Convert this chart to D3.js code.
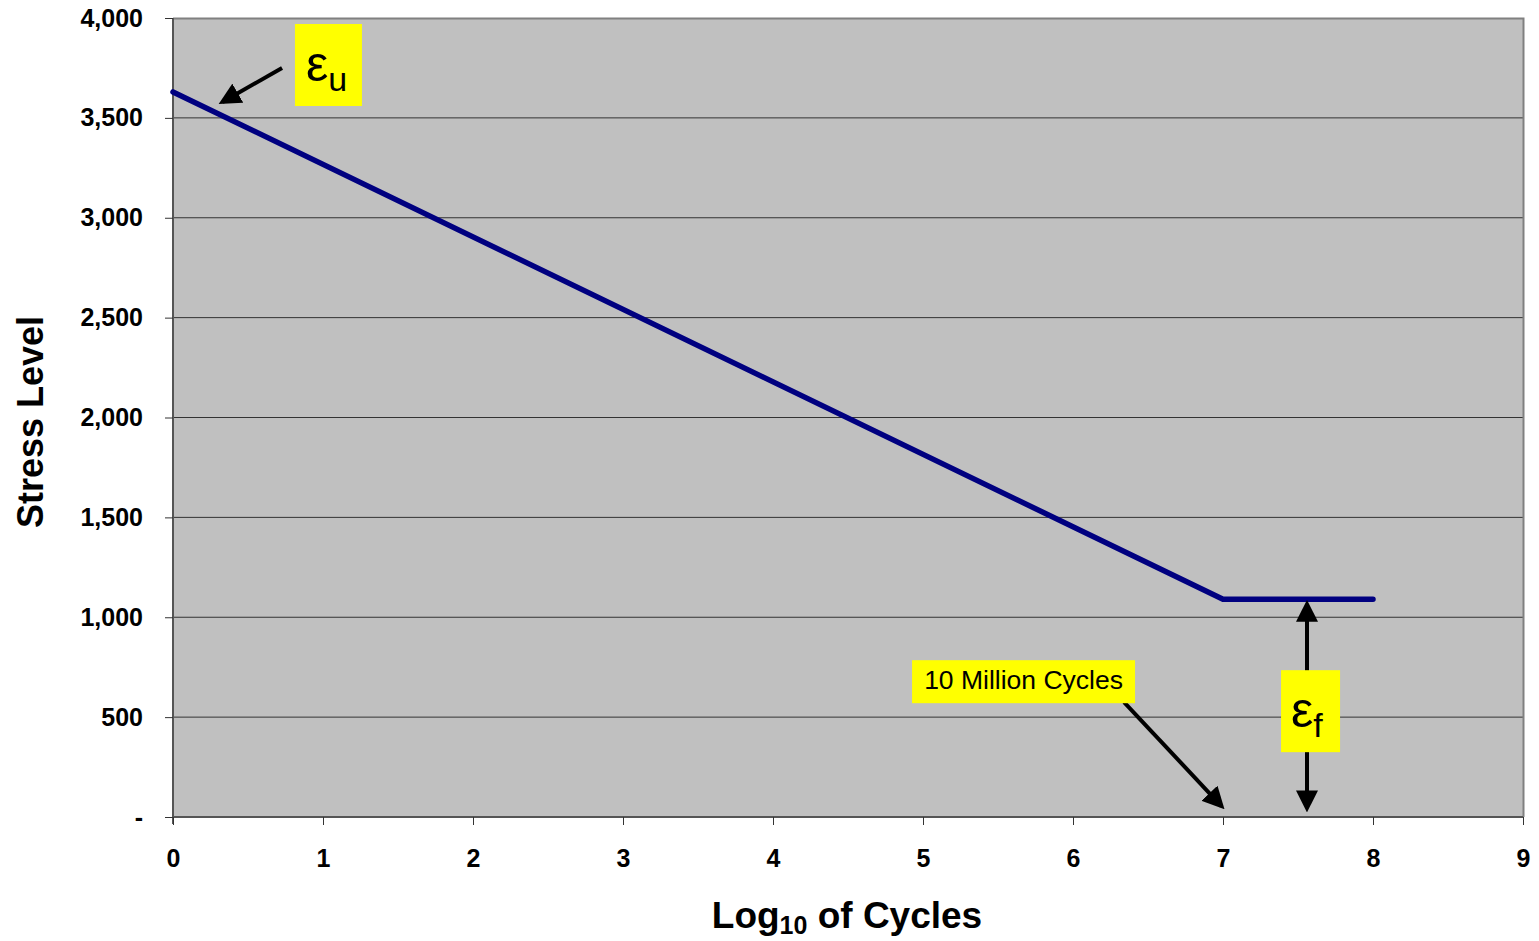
<!DOCTYPE html>
<html><head><meta charset="utf-8">
<script src="https://cdn.jsdelivr.net/npm/d3@7"></script>
<style>body{margin:0;background:#fff;} svg{display:block;font-family:"Liberation Sans",Arial,sans-serif;}</style>
</head><body>
<svg id="c" width="1539" height="941"></svg>
<script>
const cyclesLog = [0, 7, 8];
const stress = [3630, 1090, 1090];
const xTicks = [0,1,2,3,4,5,6,7,8,9];
const yTicks = [0,500,1000,1500,2000,2500,3000,3500,4000];

const svg = d3.select("#c");
const L = 173, R = 1523, T = 18, B = 817;
const x = d3.scaleLinear().domain([0,9]).range([L,R]);
const y = d3.scaleLinear().domain([0,4000]).range([B,T]);

svg.append("rect").attr("x",L).attr("y",T).attr("width",R-L).attr("height",B-T).attr("fill","#c0c0c0");

// gridlines
svg.append("g").selectAll("line").data(yTicks.filter(d=>d>0&&d<4000)).join("line")
  .attr("x1",L).attr("x2",R).attr("y1",d=>y(d)).attr("y2",d=>y(d))
  .attr("stroke","#333").attr("stroke-width",1);

// border top/right
svg.append("path").attr("d",`M${L},${T+0.5}H${R+0.5}V${B}`).attr("fill","none").attr("stroke","#808080").attr("stroke-width",2);

const fmt = d => d===0 ? "-" : d3.format(",")(d);
const yAxis = svg.append("g").attr("transform",`translate(${L},0)`)
  .call(d3.axisLeft(y).tickValues(yTicks).tickFormat(fmt).tickSize(8).tickPadding(22));
const xAxis = svg.append("g").attr("transform",`translate(0,${B})`)
  .call(d3.axisBottom(x).tickValues(xTicks).tickSize(8).tickPadding(24));
[yAxis,xAxis].forEach(a=>{
  a.select(".domain").attr("stroke","#555").attr("stroke-width",2);
  a.selectAll(".tick line").attr("stroke","#333");
  a.selectAll("text").attr("font-family","Liberation Sans, Arial, sans-serif").attr("font-size",25).attr("font-weight","bold").attr("fill","#000");
});
xAxis.select(".domain").attr("d",`M${L},0H${R}`);
yAxis.select(".domain").attr("d",`M0,${B+7}V${T}`);

// line
const pts = cyclesLog.map((c,i)=>[c,stress[i]]);
svg.append("path").datum(pts)
  .attr("d",d3.line().x(d=>x(d[0])).y(d=>y(d[1])))
  .attr("fill","none").attr("stroke","#000080").attr("stroke-width",5.5)
  .attr("stroke-linecap","round").attr("stroke-linejoin","round");

// arrowheads
const defs = svg.append("defs");
defs.append("marker").attr("id","ah").attr("viewBox","0 0 10 10").attr("refX",8).attr("refY",5)
  .attr("markerWidth",5.5).attr("markerHeight",5.5).attr("orient","auto-start-reverse").attr("markerUnits","strokeWidth")
  .append("path").attr("d","M0,0L10,5L0,10z").attr("fill","#000");

function arrow(x1,y1,x2,y2,both){
  const p = svg.append("line").attr("x1",x1).attr("y1",y1).attr("x2",x2).attr("y2",y2)
    .attr("stroke","#000").attr("stroke-width",4).attr("marker-end","url(#ah)");
  if(both) p.attr("marker-start","url(#ah)");
}
// eps_u arrow
arrow(x(0.727), y(3750), x(0.33), y(3580));
// 10 million arrow
arrow(x(6.34), y(575), x(6.99), y(55));
// eps_f double arrow
arrow(x(7.56), y(1065), x(7.56), y(45), true);

// yellow boxes
function box(x0,y0,w,h){
  svg.append("rect").attr("x",x0).attr("y",y0).attr("width",w).attr("height",h).attr("fill","#ffff00");
}
box(x(0.813), y(3970), 67, 82);
const eu = svg.append("text").attr("x",x(0.813)+11).attr("y",y(3970)+57).attr("font-size",50).attr("font-family","Liberation Sans, Arial, sans-serif");
eu.append("tspan").text("ε");
eu.append("tspan").attr("font-size",34).attr("dy",10).text("u");

box(x(7.387), y(735), 59, 82);
const ef = svg.append("text").attr("x",x(7.387)+10).attr("y",y(735)+57).attr("font-size",50).attr("font-family","Liberation Sans, Arial, sans-serif");
ef.append("tspan").text("ε");
ef.append("tspan").attr("font-size",34).attr("dy",10).text("f");

box(x(4.927), y(785), 223, 43);
svg.append("text").attr("x",x(4.927)+111.5).attr("y",y(785)+29).attr("text-anchor","middle")
  .attr("font-size",26.5).attr("font-family","Liberation Sans, Arial, sans-serif").text("10 Million Cycles");

// axis titles
const xt = svg.append("text").attr("x",847).attr("y",928).attr("text-anchor","middle")
  .attr("font-size",37).attr("font-weight","bold");
xt.append("tspan").text("Log");
xt.append("tspan").attr("font-size",25).attr("dy",6).text("10");
xt.append("tspan").attr("dy",-6).text(" of Cycles");

svg.append("text").attr("transform","translate(43,422) rotate(-90)").attr("text-anchor","middle")
  .attr("font-size",36).attr("font-weight","bold").text("Stress Level");
</script>
</body></html>
